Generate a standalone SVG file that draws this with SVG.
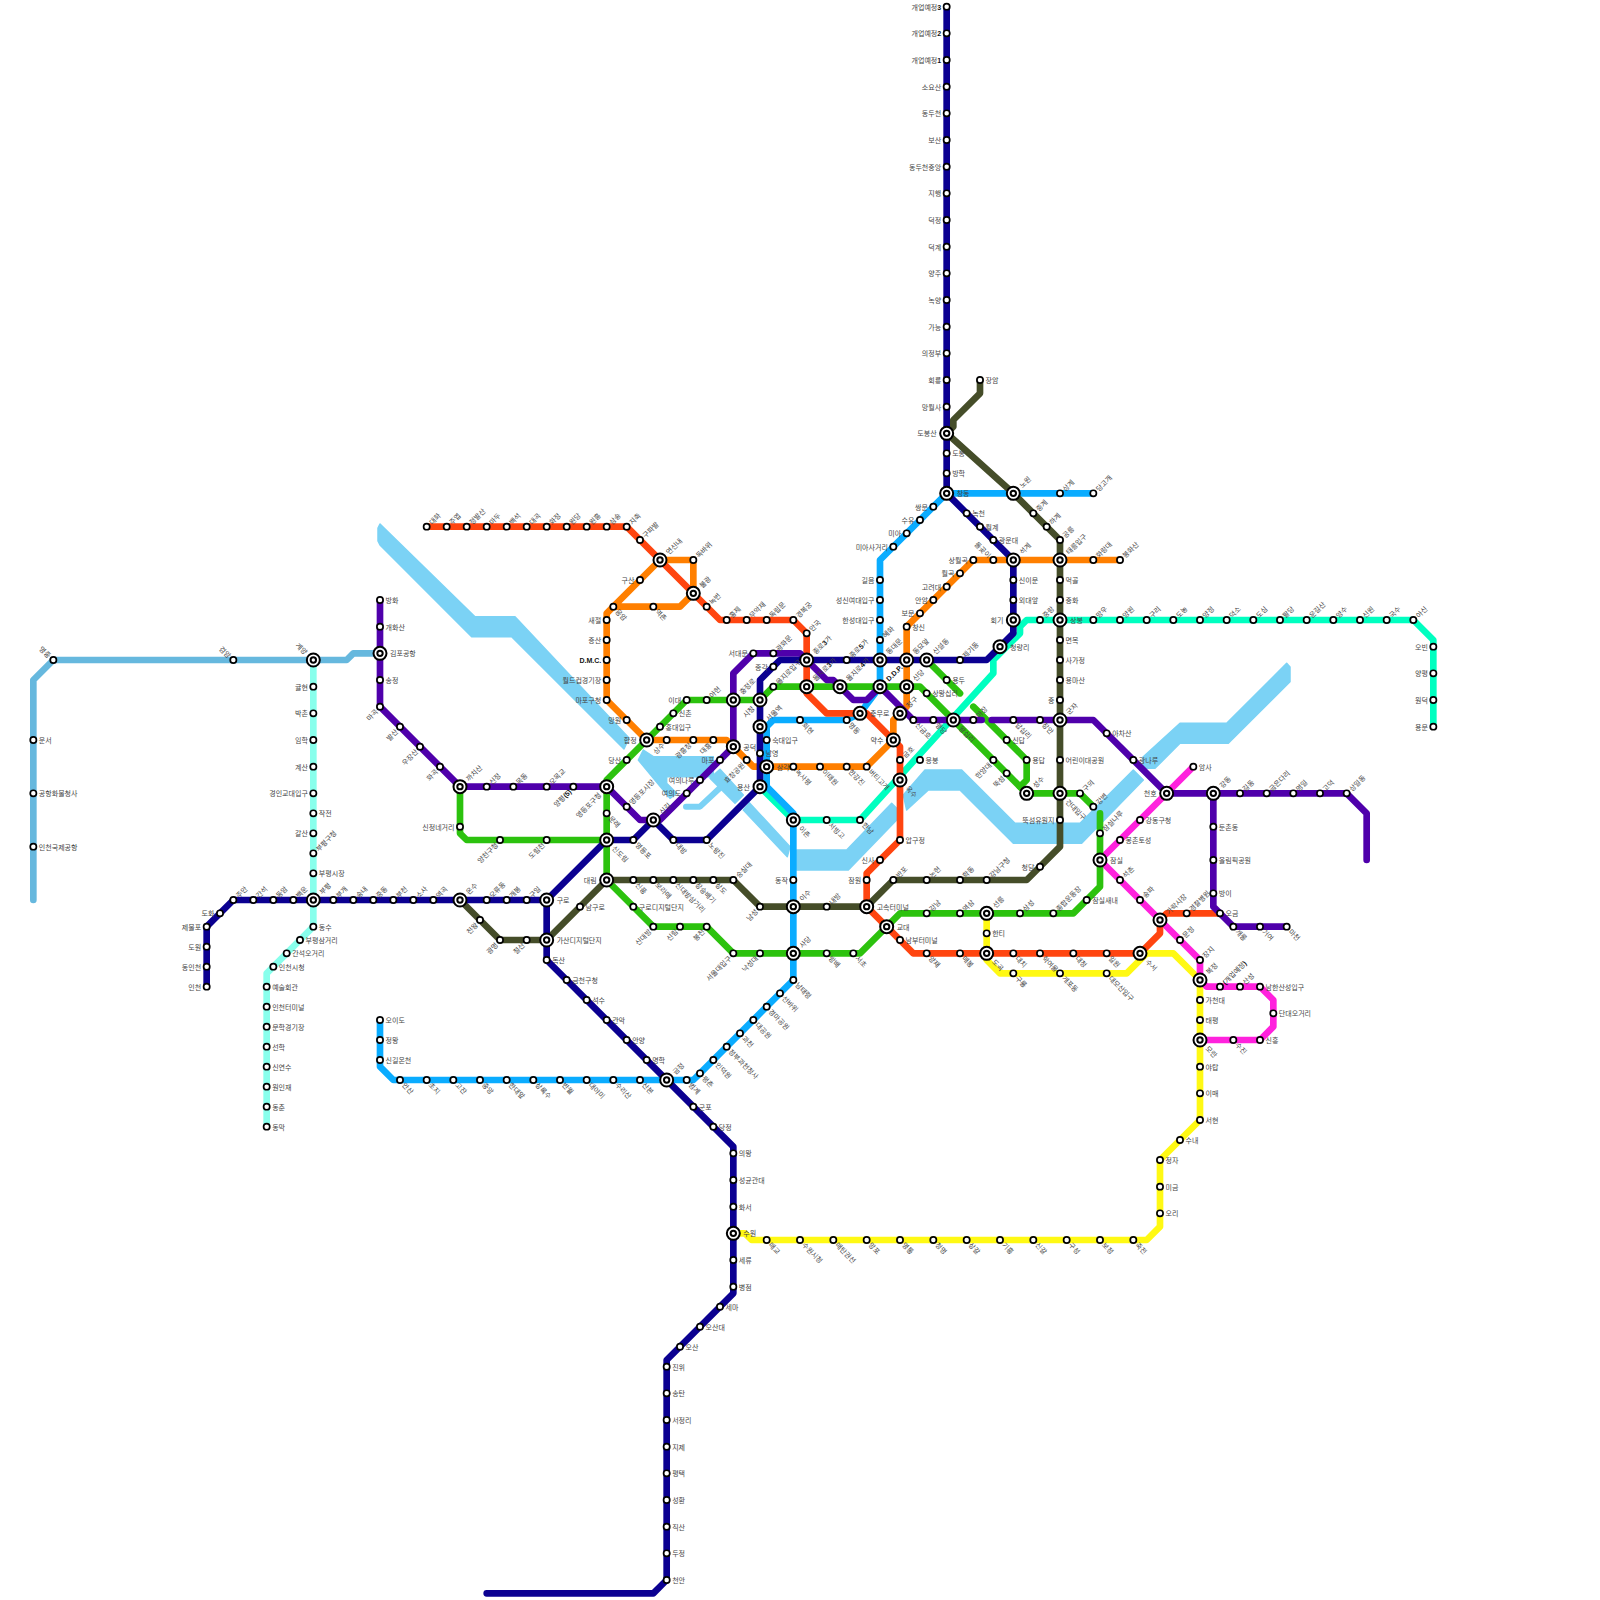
<svg xmlns="http://www.w3.org/2000/svg" width="1600" height="1600" viewBox="0 0 1600 1600">
<style>
text{font-family:"Noto Sans CJK KR","Liberation Sans",sans-serif;font-size:7px;fill:#444;dominant-baseline:central;opacity:.99}
.b{font-family:"Liberation Sans",sans-serif;font-weight:bold;fill:#111}
.r{transform:translate(5.5px,0)}
.l{transform:translate(-5.5px,0);text-anchor:end}
.ur{transform:translate(3.5px,-3.5px) rotate(-45deg)}
.dr{transform:translate(3.5px,3.5px) rotate(45deg)}
.ul{transform:translate(-3.5px,-3.5px) rotate(45deg);text-anchor:end}
.dl{transform:translate(-3.5px,3.5px) rotate(-45deg);text-anchor:end}
.R{transform:translate(10px,0)}
.L{transform:translate(-10px,0);text-anchor:end}
.UR{transform:translate(7px,-7px) rotate(-45deg)}
.DR{transform:translate(7px,7px) rotate(45deg)}
.UL{transform:translate(-7px,-7px) rotate(45deg);text-anchor:end}
.DL{transform:translate(-7px,7px) rotate(-45deg);text-anchor:end}
.s{fill:#fff;stroke:#000;stroke-width:1.7}
.x1{fill:#fff;stroke:#000;stroke-width:2}
.x2{fill:#fff;stroke:#000;stroke-width:2}
#river polygon{fill:#7bd2f5;stroke:#7bd2f5;stroke-width:1.5;stroke-linejoin:round}
#river polyline{fill:none;stroke:#7bd2f5;stroke-width:6;stroke-linecap:round;stroke-linejoin:round}
#connectors polyline{fill:none;stroke-width:6.67;stroke-linecap:round;stroke-linejoin:round}
.arex{stroke:#66b8de}.inc{stroke:#88ffec}.yel{stroke:#fff913}.mag{stroke:#ff22dd}.tea{stroke:#00ffc0}.sky{stroke:#0aacff}.org{stroke:#ff7f00}.red{stroke:#ff4510}.grn{stroke:#2cc20e}.olv{stroke:#454d29}.pur{stroke:#4f00ab}.dbl{stroke:#0b0091}
</style>
<g id="river">
<polygon points="378,528 380,524 475,616.67 515,616.67 629,738 624,749 511.67,636.67 471.67,636.67 380,545 378,541"/>
<polygon points="643.33,750 653.33,756.67 713.33,756.67 713.33,776.67 666.67,776.67 666.67,783.33 676.67,793.33 670,798.33 638.33,760"/>
<polyline points="686,806.67 700,806.67 722,786"/>
<polygon points="720,769.33 743.33,795 735,803.33 710,778.33"/>
<polygon points="749.33,802.67 790,846.67 787.33,856.67 743.33,810"/>
<polygon points="796.67,850 846.67,850 891.67,803.33 896.67,808.33 896.67,820 848.33,870 796.67,870"/>
<polygon points="903.33,795 925,770 961.67,770 1015,823.33 1080,823.33 1133.33,770 1143.33,780 1081.67,843.33 1013.33,843.33 960,790 928.33,790 906.67,810"/>
<polygon points="1143,757 1180,723.33 1226.67,723.33 1286.67,663.33 1290,667 1290,681.67 1228.33,743.33 1180,743.33 1155,768.33 1143,768.33"/>
</g>
<g id="connectors">
<polyline class="arex" points="380,653.33 353.33,653.33 346.67,660 53.33,660 33.33,680 33.33,900"/>
<polyline class="inc" points="313.33,660 313.33,926.67 266.67,973.33 266.67,1126.67"/>
<polyline class="yel" points="986.67,913.33 986.67,960 1000,973.33 1126.67,973.33 1146.67,953.33 1173.33,953.33 1200,980 1200,1120 1160,1160 1160,1226.67 1146.67,1240 751.67,1240 745,1233.33 733.33,1233.33"/>
<polyline class="mag" points="1193.33,766.67 1100,860 1200,960 1200,980 1206.67,986.67 1260,986.67 1273.33,1000 1273.33,1026.67 1260,1040 1200,1040"/>
<polyline class="tea" points="1433.33,726.67 1433.33,640 1413.33,620 1026.67,620 1020,626.67 1020,633.33 993.33,660 993.33,673.33 860,820 793.33,820 760,786.67"/>
<polyline class="sky" points="1093.33,493.33 946.67,493.33 880,560 880,686.67 860,713.33 846.67,720 773.33,720 766.67,726.67 766.67,786.67 793.33,813.33 793.33,980 700,1073.33 693.33,1080 393.33,1080 380,1066.67 380,1020"/>
<polyline class="org" points="660,560 693.33,560 693.33,593.33 680,606.67 613.33,606.67 660,560"/>
<polyline class="org" points="613.33,606.67 606.67,613.33 606.67,700 646.67,740 726.67,740 753.33,766.67 866.67,766.67 893.33,740 893.33,720 906.67,706.67 906.67,626.67 973.33,560 1120,560"/>
<polyline class="red" points="426.67,526.67 626.67,526.67 720,620 793.33,620 806.67,633.33 806.67,693.33 826.67,713.33 866.67,713.33 893.33,740 900,746.67 900,840 866.67,873.33 866.67,906.67 913.33,953.33 1140,953.33 1160,933.33 1160,920 1166.67,913.33 1220,913.33"/>
<polyline class="grn" points="760,700 686.67,700 606.67,780 606.67,880 653.33,926.67 706.67,926.67 733.33,953.33 860,953.33 900,913.33 1073.33,913.33 1100,886.67 1100,813.33"/>
<polyline class="grn" points="1093.33,806.67 1080,793.33 1026.67,793.33 920,686.67 773.33,686.67 760,700"/>
<polyline class="grn" points="926.67,660 960,693.33"/>
<polyline class="grn" points="973.33,706.67 1026.67,760 1026.67,780 1020,786.67"/>
<polyline class="grn" points="460,786.67 460,833.33 466.67,840 606.67,840"/>
<polyline class="olv" points="980,380 980,393.33 953.33,420 953.33,426.67 946.67,433.33 1013.33,493.33 1060,540 1060,846.67 1026.67,880 893.33,880 866.67,906.67 760,906.67 733.33,880 606.67,880 546.67,940 500,940 460,900"/>
<polyline class="pur" points="380,600 380,706.67 460,786.67 606.67,786.67 640,820 660,820 733.33,746.67 733.33,673.33 753.33,653.33 800,653.33 806.67,660 826.67,680 833.33,680 853.33,700 866.67,700 880,686.67 913.33,720 981.67,720"/>
<polyline class="pur" points="991.67,720 1093.33,720 1166.67,793.33 1346.67,793.33 1366.67,813.33 1366.67,860"/>
<polyline class="pur" points="1213.33,793.33 1213.33,906.67 1233.33,926.67 1286.67,926.67"/>
<polyline class="dbl" points="946.67,6.67 946.67,493.33 1013.33,560 1013.33,633.33 986.67,660 780,660 760,680 760,786.67 706.67,840 673.33,840 653.33,820 633.33,840 606.67,840 546.67,900 233.33,900 206.67,926.67 206.67,986.67"/>
<polyline class="dbl" points="546.67,900 546.67,960 733.33,1146.67 733.33,1293.33 666.67,1360 666.67,1580 653.33,1593.33 486.67,1593.33"/>
</g>
<g id="nodes">
<g id="n1" transform="translate(426.67,526.67)"><circle class="s" r="3.1"/><text class="ur">대화</text></g>
<g id="n2" transform="translate(446.67,526.67)"><circle class="s" r="3.1"/><text class="ur">주엽</text></g>
<g id="n3" transform="translate(466.67,526.67)"><circle class="s" r="3.1"/><text class="ur">정발산</text></g>
<g id="n4" transform="translate(486.67,526.67)"><circle class="s" r="3.1"/><text class="ur">마두</text></g>
<g id="n5" transform="translate(506.67,526.67)"><circle class="s" r="3.1"/><text class="ur">백석</text></g>
<g id="n6" transform="translate(526.67,526.67)"><circle class="s" r="3.1"/><text class="ur">대곡</text></g>
<g id="n7" transform="translate(546.67,526.67)"><circle class="s" r="3.1"/><text class="ur">화정</text></g>
<g id="n8" transform="translate(566.67,526.67)"><circle class="s" r="3.1"/><text class="ur">원당</text></g>
<g id="n9" transform="translate(586.67,526.67)"><circle class="s" r="3.1"/><text class="ur">원흥</text></g>
<g id="n10" transform="translate(606.67,526.67)"><circle class="s" r="3.1"/><text class="ur">삼송</text></g>
<g id="n11" transform="translate(626.67,526.67)"><circle class="s" r="3.1"/><text class="ur">지축</text></g>
<g id="n12" transform="translate(640,540)"><circle class="s" r="3.1"/><text class="ur">구파발</text></g>
<g id="n13" transform="translate(660,560)"><circle class="x1" r="6.5"/><circle class="x2" r="2.7"/><text class="UR">연신내</text></g>
<g id="n14" transform="translate(693.33,593.33)"><circle class="x1" r="6.5"/><circle class="x2" r="2.7"/><text class="UR">불광</text></g>
<g id="n15" transform="translate(706.67,606.67)"><circle class="s" r="3.1"/><text class="ur">녹번</text></g>
<g id="n16" transform="translate(726.67,620)"><circle class="s" r="3.1"/><text class="ur">홍제</text></g>
<g id="n17" transform="translate(746.67,620)"><circle class="s" r="3.1"/><text class="ur">무악재</text></g>
<g id="n18" transform="translate(766.67,620)"><circle class="s" r="3.1"/><text class="ur">독립문</text></g>
<g id="n19" transform="translate(793.33,620)"><circle class="s" r="3.1"/><text class="ur">경복궁</text></g>
<g id="n20" transform="translate(806.67,633.33)"><circle class="s" r="3.1"/><text class="ur">안국</text></g>
<g id="n21" transform="translate(806.67,660)"><circle class="x1" r="6.5"/><circle class="x2" r="2.7"/><text class="UR">종로<tspan class="b">3</tspan>가</text></g>
<g id="n22" transform="translate(806.67,686.67)"><circle class="x1" r="6.5"/><circle class="x2" r="2.7"/><text class="UR">을지로<tspan class="b">3</tspan>가</text></g>
<g id="n23" transform="translate(860,713.33)"><circle class="x1" r="6.5"/><circle class="x2" r="2.7"/><text class="R">충무로</text></g>
<g id="n24" transform="translate(893.33,740)"><circle class="x1" r="6.5"/><circle class="x2" r="2.7"/><text class="L">약수</text></g>
<g id="n25" transform="translate(900,760)"><circle class="s" r="3.1"/><text class="ur">금호</text></g>
<g id="n26" transform="translate(900,780)"><circle class="x1" r="6.5"/><circle class="x2" r="2.7"/><text class="DR">옥수</text></g>
<g id="n27" transform="translate(900,840)"><circle class="s" r="3.1"/><text class="r">압구정</text></g>
<g id="n28" transform="translate(880,860)"><circle class="s" r="3.1"/><text class="l">신사</text></g>
<g id="n29" transform="translate(866.67,880)"><circle class="s" r="3.1"/><text class="l">잠원</text></g>
<g id="n30" transform="translate(866.67,906.67)"><circle class="x1" r="6.5"/><circle class="x2" r="2.7"/><text class="R">고속터미널</text></g>
<g id="n31" transform="translate(886.67,926.67)"><circle class="x1" r="6.5"/><circle class="x2" r="2.7"/><text class="R">교대</text></g>
<g id="n32" transform="translate(900,940)"><circle class="s" r="3.1"/><text class="r">남부터미널</text></g>
<g id="n33" transform="translate(926.67,953.33)"><circle class="s" r="3.1"/><text class="dr">양재</text></g>
<g id="n34" transform="translate(960,953.33)"><circle class="s" r="3.1"/><text class="dr">매봉</text></g>
<g id="n35" transform="translate(986.67,953.33)"><circle class="x1" r="6.5"/><circle class="x2" r="2.7"/><text class="DR">도곡</text></g>
<g id="n36" transform="translate(1013.33,953.33)"><circle class="s" r="3.1"/><text class="dr">대치</text></g>
<g id="n37" transform="translate(1040,953.33)"><circle class="s" r="3.1"/><text class="dr">학여울</text></g>
<g id="n38" transform="translate(1073.33,953.33)"><circle class="s" r="3.1"/><text class="dr">대청</text></g>
<g id="n39" transform="translate(1106.67,953.33)"><circle class="s" r="3.1"/><text class="dr">일원</text></g>
<g id="n40" transform="translate(1140,953.33)"><circle class="x1" r="6.5"/><circle class="x2" r="2.7"/><text class="DR">수서</text></g>
<g id="n41" transform="translate(1160,920)"><circle class="x1" r="6.5"/><circle class="x2" r="2.7"/><text class="UR">가락시장</text></g>
<g id="n42" transform="translate(1186.67,913.33)"><circle class="s" r="3.1"/><text class="ur">경찰병원</text></g>
<g id="n43" transform="translate(1220,913.33)"><circle class="s" r="3.1"/><text class="r">오금</text></g>
<g id="n44" transform="translate(693.33,560)"><circle class="s" r="3.1"/><text class="ur">독바위</text></g>
<g id="n45" transform="translate(640,580)"><circle class="s" r="3.1"/><text class="l">구산</text></g>
<g id="n46" transform="translate(613.33,606.67)"><circle class="s" r="3.1"/><text class="dr">응암</text></g>
<g id="n47" transform="translate(653.33,606.67)"><circle class="s" r="3.1"/><text class="dr">역촌</text></g>
<g id="n48" transform="translate(606.67,620)"><circle class="s" r="3.1"/><text class="l">새절</text></g>
<g id="n49" transform="translate(606.67,640)"><circle class="s" r="3.1"/><text class="l">증산</text></g>
<g id="n50" transform="translate(606.67,660)"><circle class="s" r="3.1"/><text class="l"><tspan class="b">D.M.C.</tspan></text></g>
<g id="n51" transform="translate(606.67,680)"><circle class="s" r="3.1"/><text class="l">월드컵경기장</text></g>
<g id="n52" transform="translate(606.67,700)"><circle class="s" r="3.1"/><text class="l">마포구청</text></g>
<g id="n53" transform="translate(626.67,720)"><circle class="s" r="3.1"/><text class="l">망원</text></g>
<g id="n54" transform="translate(646.67,740)"><circle class="x1" r="6.5"/><circle class="x2" r="2.7"/><text class="L">합정</text></g>
<g id="n55" transform="translate(666.67,740)"><circle class="s" r="3.1"/><text class="dl">상수</text></g>
<g id="n56" transform="translate(693.33,740)"><circle class="s" r="3.1"/><text class="dl">광흥창</text></g>
<g id="n57" transform="translate(713.33,740)"><circle class="s" r="3.1"/><text class="dl">대흥</text></g>
<g id="n58" transform="translate(733.33,746.67)"><circle class="x1" r="6.5"/><circle class="x2" r="2.7"/><text class="R">공덕</text></g>
<g id="n59" transform="translate(746.67,760)"><circle class="s" r="3.1"/><text class="dl">효창공원</text></g>
<g id="n60" transform="translate(766.67,766.67)"><circle class="x1" r="6.5"/><circle class="x2" r="2.7"/><text class="R">삼각지</text></g>
<g id="n61" transform="translate(793.33,766.67)"><circle class="s" r="3.1"/><text class="dr">녹사평</text></g>
<g id="n62" transform="translate(820,766.67)"><circle class="s" r="3.1"/><text class="dr">이태원</text></g>
<g id="n63" transform="translate(846.67,766.67)"><circle class="s" r="3.1"/><text class="dr">한강진</text></g>
<g id="n64" transform="translate(866.67,766.67)"><circle class="s" r="3.1"/><text class="dr">버티고개</text></g>
<g id="n65" transform="translate(900,713.33)"><circle class="x1" r="6.5"/><circle class="x2" r="2.7"/><text class="UR">청구</text></g>
<g id="n66" transform="translate(906.67,686.67)"><circle class="x1" r="6.5"/><circle class="x2" r="2.7"/><text class="UR">신당</text></g>
<g id="n67" transform="translate(906.67,660)"><circle class="x1" r="6.5"/><circle class="x2" r="2.7"/><text class="UR">동묘앞</text></g>
<g id="n68" transform="translate(906.67,626.67)"><circle class="s" r="3.1"/><text class="r">창신</text></g>
<g id="n69" transform="translate(920,613.33)"><circle class="s" r="3.1"/><text class="l">보문</text></g>
<g id="n70" transform="translate(933.33,600)"><circle class="s" r="3.1"/><text class="l">안암</text></g>
<g id="n71" transform="translate(946.67,586.67)"><circle class="s" r="3.1"/><text class="l">고려대</text></g>
<g id="n72" transform="translate(960,573.33)"><circle class="s" r="3.1"/><text class="l">월곡</text></g>
<g id="n73" transform="translate(973.33,560)"><circle class="s" r="3.1"/><text class="l">상월곡</text></g>
<g id="n74" transform="translate(993.33,560)"><circle class="s" r="3.1"/><text class="ul">돌곶이</text></g>
<g id="n75" transform="translate(1013.33,560)"><circle class="x1" r="6.5"/><circle class="x2" r="2.7"/><text class="UR">석계</text></g>
<g id="n76" transform="translate(1060,560)"><circle class="x1" r="6.5"/><circle class="x2" r="2.7"/><text class="UR">태릉입구</text></g>
<g id="n77" transform="translate(1093.33,560)"><circle class="s" r="3.1"/><text class="ur">화랑대</text></g>
<g id="n78" transform="translate(1120,560)"><circle class="s" r="3.1"/><text class="ur">봉화산</text></g>
<g id="n79" transform="translate(1093.33,493.33)"><circle class="s" r="3.1"/><text class="ur">당고개</text></g>
<g id="n80" transform="translate(1060,493.33)"><circle class="s" r="3.1"/><text class="ur">상계</text></g>
<g id="n81" transform="translate(1013.33,493.33)"><circle class="x1" r="6.5"/><circle class="x2" r="2.7"/><text class="UR">노원</text></g>
<g id="n82" transform="translate(946.67,493.33)"><circle class="x1" r="6.5"/><circle class="x2" r="2.7"/><text class="R">창동</text></g>
<g id="n83" transform="translate(933.33,506.67)"><circle class="s" r="3.1"/><text class="l">쌍문</text></g>
<g id="n84" transform="translate(920,520)"><circle class="s" r="3.1"/><text class="l">수유</text></g>
<g id="n85" transform="translate(906.67,533.33)"><circle class="s" r="3.1"/><text class="l">미아</text></g>
<g id="n86" transform="translate(893.33,546.67)"><circle class="s" r="3.1"/><text class="l">미아사거리</text></g>
<g id="n87" transform="translate(880,580)"><circle class="s" r="3.1"/><text class="l">길음</text></g>
<g id="n88" transform="translate(880,600)"><circle class="s" r="3.1"/><text class="l">성신여대입구</text></g>
<g id="n89" transform="translate(880,620)"><circle class="s" r="3.1"/><text class="l">한성대입구</text></g>
<g id="n90" transform="translate(880,640)"><circle class="s" r="3.1"/><text class="ur">혜화</text></g>
<g id="n91" transform="translate(880,660)"><circle class="x1" r="6.5"/><circle class="x2" r="2.7"/><text class="UR">동대문</text></g>
<g id="n92" transform="translate(880,686.67)"><circle class="x1" r="6.5"/><circle class="x2" r="2.7"/><text class="UR"><tspan class="b">D.D.P.</tspan></text></g>
<g id="n93" transform="translate(846.67,720)"><circle class="s" r="3.1"/><text class="dr">명동</text></g>
<g id="n94" transform="translate(800,720)"><circle class="s" r="3.1"/><text class="dr">회현</text></g>
<g id="n95" transform="translate(766.67,740)"><circle class="s" r="3.1"/><text class="r">숙대입구</text></g>
<g id="n96" transform="translate(760,726.67)"><circle class="x1" r="6.5"/><circle class="x2" r="2.7"/><text class="UR">서울역</text></g>
<g id="n97" transform="translate(760,753.33)"><circle class="s" r="3.1"/><text class="r">남영</text></g>
<g id="n98" transform="translate(760,786.67)"><circle class="x1" r="6.5"/><circle class="x2" r="2.7"/><text class="L">용산</text></g>
<g id="n99" transform="translate(793.33,820)"><circle class="x1" r="6.5"/><circle class="x2" r="2.7"/><text class="DR">이촌</text></g>
<g id="n100" transform="translate(793.33,880)"><circle class="s" r="3.1"/><text class="l">동작</text></g>
<g id="n101" transform="translate(793.33,906.67)"><circle class="x1" r="6.5"/><circle class="x2" r="2.7"/><text class="UR">이수</text></g>
<g id="n102" transform="translate(793.33,953.33)"><circle class="x1" r="6.5"/><circle class="x2" r="2.7"/><text class="UR">사당</text></g>
<g id="n103" transform="translate(793.33,980)"><circle class="s" r="3.1"/><text class="dr">남태령</text></g>
<g id="n104" transform="translate(780,993.33)"><circle class="s" r="3.1"/><text class="dr">선바위</text></g>
<g id="n105" transform="translate(766.67,1006.67)"><circle class="s" r="3.1"/><text class="dr">경마공원</text></g>
<g id="n106" transform="translate(753.33,1020)"><circle class="s" r="3.1"/><text class="dr">대공원</text></g>
<g id="n107" transform="translate(740,1033.33)"><circle class="s" r="3.1"/><text class="dr">과천</text></g>
<g id="n108" transform="translate(726.67,1046.67)"><circle class="s" r="3.1"/><text class="dr">정부과천청사</text></g>
<g id="n109" transform="translate(713.33,1060)"><circle class="s" r="3.1"/><text class="dr">인덕원</text></g>
<g id="n110" transform="translate(700,1073.33)"><circle class="s" r="3.1"/><text class="dr">평촌</text></g>
<g id="n111" transform="translate(686.67,1080)"><circle class="s" r="3.1"/><text class="dr">범계</text></g>
<g id="n112" transform="translate(666.67,1080)"><circle class="x1" r="6.5"/><circle class="x2" r="2.7"/><text class="UR">금정</text></g>
<g id="n113" transform="translate(640,1080)"><circle class="s" r="3.1"/><text class="dr">산본</text></g>
<g id="n114" transform="translate(613.33,1080)"><circle class="s" r="3.1"/><text class="dr">수리산</text></g>
<g id="n115" transform="translate(586.67,1080)"><circle class="s" r="3.1"/><text class="dr">대야미</text></g>
<g id="n116" transform="translate(560,1080)"><circle class="s" r="3.1"/><text class="dr">반월</text></g>
<g id="n117" transform="translate(533.33,1080)"><circle class="s" r="3.1"/><text class="dr">상록수</text></g>
<g id="n118" transform="translate(506.67,1080)"><circle class="s" r="3.1"/><text class="dr">한대앞</text></g>
<g id="n119" transform="translate(480,1080)"><circle class="s" r="3.1"/><text class="dr">중앙</text></g>
<g id="n120" transform="translate(453.33,1080)"><circle class="s" r="3.1"/><text class="dr">고잔</text></g>
<g id="n121" transform="translate(426.67,1080)"><circle class="s" r="3.1"/><text class="dr">초지</text></g>
<g id="n122" transform="translate(400,1080)"><circle class="s" r="3.1"/><text class="dr">안산</text></g>
<g id="n123" transform="translate(380,1060)"><circle class="s" r="3.1"/><text class="r">신길온천</text></g>
<g id="n124" transform="translate(380,1040)"><circle class="s" r="3.1"/><text class="r">정왕</text></g>
<g id="n125" transform="translate(380,1020)"><circle class="s" r="3.1"/><text class="r">오이도</text></g>
<g id="n126" transform="translate(946.67,6.67)"><circle class="s" r="3.1"/><text class="l">개업예정<tspan class="b">3</tspan></text></g>
<g id="n127" transform="translate(946.67,33.33)"><circle class="s" r="3.1"/><text class="l">개업예정<tspan class="b">2</tspan></text></g>
<g id="n128" transform="translate(946.67,60)"><circle class="s" r="3.1"/><text class="l">개업예정<tspan class="b">1</tspan></text></g>
<g id="n129" transform="translate(946.67,86.67)"><circle class="s" r="3.1"/><text class="l">소요산</text></g>
<g id="n130" transform="translate(946.67,113.33)"><circle class="s" r="3.1"/><text class="l">동두천</text></g>
<g id="n131" transform="translate(946.67,140)"><circle class="s" r="3.1"/><text class="l">보산</text></g>
<g id="n132" transform="translate(946.67,166.67)"><circle class="s" r="3.1"/><text class="l">동두천중앙</text></g>
<g id="n133" transform="translate(946.67,193.33)"><circle class="s" r="3.1"/><text class="l">지행</text></g>
<g id="n134" transform="translate(946.67,220)"><circle class="s" r="3.1"/><text class="l">덕정</text></g>
<g id="n135" transform="translate(946.67,246.67)"><circle class="s" r="3.1"/><text class="l">덕계</text></g>
<g id="n136" transform="translate(946.67,273.33)"><circle class="s" r="3.1"/><text class="l">양주</text></g>
<g id="n137" transform="translate(946.67,300)"><circle class="s" r="3.1"/><text class="l">녹양</text></g>
<g id="n138" transform="translate(946.67,326.67)"><circle class="s" r="3.1"/><text class="l">가능</text></g>
<g id="n139" transform="translate(946.67,353.33)"><circle class="s" r="3.1"/><text class="l">의정부</text></g>
<g id="n140" transform="translate(946.67,380)"><circle class="s" r="3.1"/><text class="l">회룡</text></g>
<g id="n141" transform="translate(946.67,406.67)"><circle class="s" r="3.1"/><text class="l">망월사</text></g>
<g id="n142" transform="translate(946.67,433.33)"><circle class="x1" r="6.5"/><circle class="x2" r="2.7"/><text class="L">도봉산</text></g>
<g id="n143" transform="translate(946.67,453.33)"><circle class="s" r="3.1"/><text class="r">도봉</text></g>
<g id="n144" transform="translate(946.67,473.33)"><circle class="s" r="3.1"/><text class="r">방학</text></g>
<g id="n145" transform="translate(966.67,513.33)"><circle class="s" r="3.1"/><text class="r">녹천</text></g>
<g id="n146" transform="translate(980,526.67)"><circle class="s" r="3.1"/><text class="r">월계</text></g>
<g id="n147" transform="translate(993.33,540)"><circle class="s" r="3.1"/><text class="r">광운대</text></g>
<g id="n148" transform="translate(1013.33,580)"><circle class="s" r="3.1"/><text class="r">신이문</text></g>
<g id="n149" transform="translate(1013.33,600)"><circle class="s" r="3.1"/><text class="r">외대앞</text></g>
<g id="n150" transform="translate(1013.33,620)"><circle class="x1" r="6.5"/><circle class="x2" r="2.7"/><text class="L">회기</text></g>
<g id="n151" transform="translate(1000,646.67)"><circle class="x1" r="6.5"/><circle class="x2" r="2.7"/><text class="R">청량리</text></g>
<g id="n152" transform="translate(960,660)"><circle class="s" r="3.1"/><text class="ur">제기동</text></g>
<g id="n153" transform="translate(926.67,660)"><circle class="x1" r="6.5"/><circle class="x2" r="2.7"/><text class="UR">신설동</text></g>
<g id="n154" transform="translate(846.67,660)"><circle class="s" r="3.1"/><text class="ur">종로<tspan class="b">5</tspan>가</text></g>
<g id="n155" transform="translate(773.33,666.67)"><circle class="s" r="3.1"/><text class="l">종각</text></g>
<g id="n156" transform="translate(760,700)"><circle class="x1" r="6.5"/><circle class="x2" r="2.7"/><text class="DL">시청</text></g>
<g id="n157" transform="translate(706.67,840)"><circle class="s" r="3.1"/><text class="dr">노량진</text></g>
<g id="n158" transform="translate(673.33,840)"><circle class="s" r="3.1"/><text class="dr">대방</text></g>
<g id="n159" transform="translate(653.33,820)"><circle class="x1" r="6.5"/><circle class="x2" r="2.7"/><text class="UR">신길</text></g>
<g id="n160" transform="translate(633.33,840)"><circle class="s" r="3.1"/><text class="dr">영등포</text></g>
<g id="n161" transform="translate(606.67,840)"><circle class="x1" r="6.5"/><circle class="x2" r="2.7"/><text class="DR">신도림</text></g>
<g id="n162" transform="translate(546.67,900)"><circle class="x1" r="6.5"/><circle class="x2" r="2.7"/><text class="R">구로</text></g>
<g id="n163" transform="translate(526.67,900)"><circle class="s" r="3.1"/><text class="ur">구일</text></g>
<g id="n164" transform="translate(506.67,900)"><circle class="s" r="3.1"/><text class="ur">개봉</text></g>
<g id="n165" transform="translate(486.67,900)"><circle class="s" r="3.1"/><text class="ur">오류동</text></g>
<g id="n166" transform="translate(460,900)"><circle class="x1" r="6.5"/><circle class="x2" r="2.7"/><text class="UR">온수</text></g>
<g id="n167" transform="translate(433.33,900)"><circle class="s" r="3.1"/><text class="ur">역곡</text></g>
<g id="n168" transform="translate(413.33,900)"><circle class="s" r="3.1"/><text class="ur">소사</text></g>
<g id="n169" transform="translate(393.33,900)"><circle class="s" r="3.1"/><text class="ur">부천</text></g>
<g id="n170" transform="translate(373.33,900)"><circle class="s" r="3.1"/><text class="ur">중동</text></g>
<g id="n171" transform="translate(353.33,900)"><circle class="s" r="3.1"/><text class="ur">송내</text></g>
<g id="n172" transform="translate(333.33,900)"><circle class="s" r="3.1"/><text class="ur">부개</text></g>
<g id="n173" transform="translate(313.33,900)"><circle class="x1" r="6.5"/><circle class="x2" r="2.7"/><text class="UR">부평</text></g>
<g id="n174" transform="translate(293.33,900)"><circle class="s" r="3.1"/><text class="ur">백운</text></g>
<g id="n175" transform="translate(273.33,900)"><circle class="s" r="3.1"/><text class="ur">동암</text></g>
<g id="n176" transform="translate(253.33,900)"><circle class="s" r="3.1"/><text class="ur">간석</text></g>
<g id="n177" transform="translate(233.33,900)"><circle class="s" r="3.1"/><text class="ur">주안</text></g>
<g id="n178" transform="translate(220,913.33)"><circle class="s" r="3.1"/><text class="l">도화</text></g>
<g id="n179" transform="translate(206.67,926.67)"><circle class="s" r="3.1"/><text class="l">제물포</text></g>
<g id="n180" transform="translate(206.67,946.67)"><circle class="s" r="3.1"/><text class="l">도원</text></g>
<g id="n181" transform="translate(206.67,966.67)"><circle class="s" r="3.1"/><text class="l">동인천</text></g>
<g id="n182" transform="translate(206.67,986.67)"><circle class="s" r="3.1"/><text class="l">인천</text></g>
<g id="n183" transform="translate(546.67,940)"><circle class="x1" r="6.5"/><circle class="x2" r="2.7"/><text class="R">가산디지털단지</text></g>
<g id="n184" transform="translate(546.67,960)"><circle class="s" r="3.1"/><text class="r">독산</text></g>
<g id="n185" transform="translate(566.67,980)"><circle class="s" r="3.1"/><text class="r">금천구청</text></g>
<g id="n186" transform="translate(586.67,1000)"><circle class="s" r="3.1"/><text class="r">석수</text></g>
<g id="n187" transform="translate(606.67,1020)"><circle class="s" r="3.1"/><text class="r">관악</text></g>
<g id="n188" transform="translate(626.67,1040)"><circle class="s" r="3.1"/><text class="r">안양</text></g>
<g id="n189" transform="translate(646.67,1060)"><circle class="s" r="3.1"/><text class="r">명학</text></g>
<g id="n190" transform="translate(693.33,1106.67)"><circle class="s" r="3.1"/><text class="r">군포</text></g>
<g id="n191" transform="translate(713.33,1126.67)"><circle class="s" r="3.1"/><text class="r">당정</text></g>
<g id="n192" transform="translate(733.33,1153.33)"><circle class="s" r="3.1"/><text class="r">의왕</text></g>
<g id="n193" transform="translate(733.33,1180)"><circle class="s" r="3.1"/><text class="r">성균관대</text></g>
<g id="n194" transform="translate(733.33,1206.67)"><circle class="s" r="3.1"/><text class="r">화서</text></g>
<g id="n195" transform="translate(733.33,1233.33)"><circle class="x1" r="6.5"/><circle class="x2" r="2.7"/><text class="R">수원</text></g>
<g id="n196" transform="translate(733.33,1260)"><circle class="s" r="3.1"/><text class="r">세류</text></g>
<g id="n197" transform="translate(733.33,1286.67)"><circle class="s" r="3.1"/><text class="r">병점</text></g>
<g id="n198" transform="translate(720,1306.67)"><circle class="s" r="3.1"/><text class="r">세마</text></g>
<g id="n199" transform="translate(700,1326.67)"><circle class="s" r="3.1"/><text class="r">오산대</text></g>
<g id="n200" transform="translate(680,1346.67)"><circle class="s" r="3.1"/><text class="r">오산</text></g>
<g id="n201" transform="translate(666.67,1366.67)"><circle class="s" r="3.1"/><text class="r">진위</text></g>
<g id="n202" transform="translate(666.67,1393.33)"><circle class="s" r="3.1"/><text class="r">송탄</text></g>
<g id="n203" transform="translate(666.67,1420)"><circle class="s" r="3.1"/><text class="r">서정리</text></g>
<g id="n204" transform="translate(666.67,1446.67)"><circle class="s" r="3.1"/><text class="r">지제</text></g>
<g id="n205" transform="translate(666.67,1473.33)"><circle class="s" r="3.1"/><text class="r">평택</text></g>
<g id="n206" transform="translate(666.67,1500)"><circle class="s" r="3.1"/><text class="r">성환</text></g>
<g id="n207" transform="translate(666.67,1526.67)"><circle class="s" r="3.1"/><text class="r">직산</text></g>
<g id="n208" transform="translate(666.67,1553.33)"><circle class="s" r="3.1"/><text class="r">두정</text></g>
<g id="n209" transform="translate(666.67,1580)"><circle class="s" r="3.1"/><text class="r">천안</text></g>
<g id="n210" transform="translate(766.67,1240)"><circle class="s" r="3.1"/><text class="dr">매교</text></g>
<g id="n211" transform="translate(800,1240)"><circle class="s" r="3.1"/><text class="dr">수원시청</text></g>
<g id="n212" transform="translate(833.33,1240)"><circle class="s" r="3.1"/><text class="dr">매탄권선</text></g>
<g id="n213" transform="translate(866.67,1240)"><circle class="s" r="3.1"/><text class="dr">망포</text></g>
<g id="n214" transform="translate(900,1240)"><circle class="s" r="3.1"/><text class="dr">영통</text></g>
<g id="n215" transform="translate(933.33,1240)"><circle class="s" r="3.1"/><text class="dr">청명</text></g>
<g id="n216" transform="translate(966.67,1240)"><circle class="s" r="3.1"/><text class="dr">상갈</text></g>
<g id="n217" transform="translate(1000,1240)"><circle class="s" r="3.1"/><text class="dr">기흥</text></g>
<g id="n218" transform="translate(1033.33,1240)"><circle class="s" r="3.1"/><text class="dr">신갈</text></g>
<g id="n219" transform="translate(1066.67,1240)"><circle class="s" r="3.1"/><text class="dr">구성</text></g>
<g id="n220" transform="translate(1100,1240)"><circle class="s" r="3.1"/><text class="dr">보정</text></g>
<g id="n221" transform="translate(1133.33,1240)"><circle class="s" r="3.1"/><text class="dr">죽전</text></g>
<g id="n222" transform="translate(1160,1213.33)"><circle class="s" r="3.1"/><text class="r">오리</text></g>
<g id="n223" transform="translate(1160,1186.67)"><circle class="s" r="3.1"/><text class="r">미금</text></g>
<g id="n224" transform="translate(1160,1160)"><circle class="s" r="3.1"/><text class="r">정자</text></g>
<g id="n225" transform="translate(1180,1140)"><circle class="s" r="3.1"/><text class="r">수내</text></g>
<g id="n226" transform="translate(1200,1120)"><circle class="s" r="3.1"/><text class="r">서현</text></g>
<g id="n227" transform="translate(1200,1093.33)"><circle class="s" r="3.1"/><text class="r">이매</text></g>
<g id="n228" transform="translate(1200,1066.67)"><circle class="s" r="3.1"/><text class="r">야탑</text></g>
<g id="n229" transform="translate(1200,1040)"><circle class="x1" r="6.5"/><circle class="x2" r="2.7"/><text class="DR">모란</text></g>
<g id="n230" transform="translate(1200,1020)"><circle class="s" r="3.1"/><text class="r">태평</text></g>
<g id="n231" transform="translate(1200,1000)"><circle class="s" r="3.1"/><text class="r">가천대</text></g>
<g id="n232" transform="translate(1200,980)"><circle class="x1" r="6.5"/><circle class="x2" r="2.7"/><text class="UR">복정</text></g>
<g id="n233" transform="translate(986.67,933.33)"><circle class="s" r="3.1"/><text class="r">한티</text></g>
<g id="n234" transform="translate(986.67,913.33)"><circle class="x1" r="6.5"/><circle class="x2" r="2.7"/><text class="UR">선릉</text></g>
<g id="n235" transform="translate(1013.33,973.33)"><circle class="s" r="3.1"/><text class="dr">구룡</text></g>
<g id="n236" transform="translate(1060,973.33)"><circle class="s" r="3.1"/><text class="dr">개포동</text></g>
<g id="n237" transform="translate(1106.67,973.33)"><circle class="s" r="3.1"/><text class="dr">대모산입구</text></g>
<g id="n238" transform="translate(1193.33,766.67)"><circle class="s" r="3.1"/><text class="r">암사</text></g>
<g id="n239" transform="translate(1166.67,793.33)"><circle class="x1" r="6.5"/><circle class="x2" r="2.7"/><text class="L">천호</text></g>
<g id="n240" transform="translate(1140,820)"><circle class="s" r="3.1"/><text class="r">강동구청</text></g>
<g id="n241" transform="translate(1120,840)"><circle class="s" r="3.1"/><text class="r">몽촌토성</text></g>
<g id="n242" transform="translate(1100,860)"><circle class="x1" r="6.5"/><circle class="x2" r="2.7"/><text class="R">잠실</text></g>
<g id="n243" transform="translate(1120,880)"><circle class="s" r="3.1"/><text class="ur">석촌</text></g>
<g id="n244" transform="translate(1140,900)"><circle class="s" r="3.1"/><text class="ur">송파</text></g>
<g id="n245" transform="translate(1180,940)"><circle class="s" r="3.1"/><text class="ur">문정</text></g>
<g id="n246" transform="translate(1200,960)"><circle class="s" r="3.1"/><text class="ur">장지</text></g>
<g id="n247" transform="translate(1220,986.67)"><circle class="s" r="3.1"/><text class="ur"><tspan class="b">(</tspan>개업예정<tspan class="b">)</tspan></text></g>
<g id="n248" transform="translate(1240,986.67)"><circle class="s" r="3.1"/><text class="ur">산성</text></g>
<g id="n249" transform="translate(1260,986.67)"><circle class="s" r="3.1"/><text class="r">남한산성입구</text></g>
<g id="n250" transform="translate(1273.33,1013.33)"><circle class="s" r="3.1"/><text class="r">단대오거리</text></g>
<g id="n251" transform="translate(1260,1040)"><circle class="s" r="3.1"/><text class="r">신흥</text></g>
<g id="n252" transform="translate(1233.33,1040)"><circle class="s" r="3.1"/><text class="dr">수진</text></g>
<g id="n253" transform="translate(380,600)"><circle class="s" r="3.1"/><text class="r">방화</text></g>
<g id="n254" transform="translate(380,626.67)"><circle class="s" r="3.1"/><text class="r">개화산</text></g>
<g id="n255" transform="translate(380,653.33)"><circle class="x1" r="6.5"/><circle class="x2" r="2.7"/><text class="R">김포공항</text></g>
<g id="n256" transform="translate(380,680)"><circle class="s" r="3.1"/><text class="r">송정</text></g>
<g id="n257" transform="translate(380,706.67)"><circle class="s" r="3.1"/><text class="dl">마곡</text></g>
<g id="n258" transform="translate(400,726.67)"><circle class="s" r="3.1"/><text class="dl">발산</text></g>
<g id="n259" transform="translate(420,746.67)"><circle class="s" r="3.1"/><text class="dl">우장산</text></g>
<g id="n260" transform="translate(440,766.67)"><circle class="s" r="3.1"/><text class="dl">화곡</text></g>
<g id="n261" transform="translate(460,786.67)"><circle class="x1" r="6.5"/><circle class="x2" r="2.7"/><text class="UR">까치산</text></g>
<g id="n262" transform="translate(486.67,786.67)"><circle class="s" r="3.1"/><text class="ur">신정</text></g>
<g id="n263" transform="translate(513.33,786.67)"><circle class="s" r="3.1"/><text class="ur">목동</text></g>
<g id="n264" transform="translate(546.67,786.67)"><circle class="s" r="3.1"/><text class="ur">오목교</text></g>
<g id="n265" transform="translate(573.33,786.67)"><circle class="s" r="3.1"/><text class="dl">양평<tspan class="b">(5)</tspan></text></g>
<g id="n266" transform="translate(606.67,786.67)"><circle class="x1" r="6.5"/><circle class="x2" r="2.7"/><text class="DL">영등포구청</text></g>
<g id="n267" transform="translate(626.67,806.67)"><circle class="s" r="3.1"/><text class="ur">영등포시장</text></g>
<g id="n268" transform="translate(686.67,793.33)"><circle class="s" r="3.1"/><text class="l">여의도</text></g>
<g id="n269" transform="translate(700,780)"><circle class="s" r="3.1"/><text class="l">여의나루</text></g>
<g id="n270" transform="translate(720,760)"><circle class="s" r="3.1"/><text class="l">마포</text></g>
<g id="n271" transform="translate(753.33,653.33)"><circle class="s" r="3.1"/><text class="l">서대문</text></g>
<g id="n272" transform="translate(773.33,653.33)"><circle class="s" r="3.1"/><text class="ur">광화문</text></g>
<g id="n273" transform="translate(840,686.67)"><circle class="x1" r="6.5"/><circle class="x2" r="2.7"/><text class="UR">을지로<tspan class="b">4</tspan>가</text></g>
<g id="n274" transform="translate(913.33,720)"><circle class="s" r="3.1"/><text class="dr">신금호</text></g>
<g id="n275" transform="translate(933.33,720)"><circle class="s" r="3.1"/><text class="dr">행당</text></g>
<g id="n276" transform="translate(953.33,720)"><circle class="x1" r="6.5"/><circle class="x2" r="2.7"/><text class="DR">왕십리</text></g>
<g id="n277" transform="translate(973.33,720)"><circle class="s" r="3.1"/><text class="ur">마장</text></g>
<g id="n278" transform="translate(1013.33,720)"><circle class="s" r="3.1"/><text class="dr">답십리</text></g>
<g id="n279" transform="translate(1040,720)"><circle class="s" r="3.1"/><text class="dr">장안</text></g>
<g id="n280" transform="translate(1060,720)"><circle class="x1" r="6.5"/><circle class="x2" r="2.7"/><text class="UR">군자</text></g>
<g id="n281" transform="translate(1106.67,733.33)"><circle class="s" r="3.1"/><text class="r">아차산</text></g>
<g id="n282" transform="translate(1133.33,760)"><circle class="s" r="3.1"/><text class="r">광나루</text></g>
<g id="n283" transform="translate(1213.33,793.33)"><circle class="x1" r="6.5"/><circle class="x2" r="2.7"/><text class="UR">강동</text></g>
<g id="n284" transform="translate(1240,793.33)"><circle class="s" r="3.1"/><text class="ur">길동</text></g>
<g id="n285" transform="translate(1266.67,793.33)"><circle class="s" r="3.1"/><text class="ur">굽은다리</text></g>
<g id="n286" transform="translate(1293.33,793.33)"><circle class="s" r="3.1"/><text class="ur">명일</text></g>
<g id="n287" transform="translate(1320,793.33)"><circle class="s" r="3.1"/><text class="ur">고덕</text></g>
<g id="n288" transform="translate(1346.67,793.33)"><circle class="s" r="3.1"/><text class="ur">상일동</text></g>
<g id="n289" transform="translate(1213.33,826.67)"><circle class="s" r="3.1"/><text class="r">둔촌동</text></g>
<g id="n290" transform="translate(1213.33,860)"><circle class="s" r="3.1"/><text class="r">올림픽공원</text></g>
<g id="n291" transform="translate(1213.33,893.33)"><circle class="s" r="3.1"/><text class="r">방이</text></g>
<g id="n292" transform="translate(1233.33,926.67)"><circle class="s" r="3.1"/><text class="dr">개롱</text></g>
<g id="n293" transform="translate(1260,926.67)"><circle class="s" r="3.1"/><text class="dr">거여</text></g>
<g id="n294" transform="translate(1286.67,926.67)"><circle class="s" r="3.1"/><text class="dr">마천</text></g>
<g id="n295" transform="translate(733.33,700)"><circle class="x1" r="6.5"/><circle class="x2" r="2.7"/><text class="UR">충정로</text></g>
<g id="n296" transform="translate(706.67,700)"><circle class="s" r="3.1"/><text class="ur">아현</text></g>
<g id="n297" transform="translate(686.67,700)"><circle class="s" r="3.1"/><text class="l">이대</text></g>
<g id="n298" transform="translate(673.33,713.33)"><circle class="s" r="3.1"/><text class="r">신촌</text></g>
<g id="n299" transform="translate(660,726.67)"><circle class="s" r="3.1"/><text class="r">홍대입구</text></g>
<g id="n300" transform="translate(626.67,760)"><circle class="s" r="3.1"/><text class="l">당산</text></g>
<g id="n301" transform="translate(606.67,813.33)"><circle class="s" r="3.1"/><text class="dr">문래</text></g>
<g id="n302" transform="translate(606.67,880)"><circle class="x1" r="6.5"/><circle class="x2" r="2.7"/><text class="L">대림</text></g>
<g id="n303" transform="translate(633.33,906.67)"><circle class="s" r="3.1"/><text class="r">구로디지털단지</text></g>
<g id="n304" transform="translate(653.33,926.67)"><circle class="s" r="3.1"/><text class="dl">신대방</text></g>
<g id="n305" transform="translate(680,926.67)"><circle class="s" r="3.1"/><text class="dl">신림</text></g>
<g id="n306" transform="translate(706.67,926.67)"><circle class="s" r="3.1"/><text class="dl">봉천</text></g>
<g id="n307" transform="translate(733.33,953.33)"><circle class="s" r="3.1"/><text class="dl">서울대입구</text></g>
<g id="n308" transform="translate(760,953.33)"><circle class="s" r="3.1"/><text class="dl">낙성대</text></g>
<g id="n309" transform="translate(826.67,953.33)"><circle class="s" r="3.1"/><text class="dr">방배</text></g>
<g id="n310" transform="translate(853.33,953.33)"><circle class="s" r="3.1"/><text class="dr">서초</text></g>
<g id="n311" transform="translate(926.67,913.33)"><circle class="s" r="3.1"/><text class="ur">강남</text></g>
<g id="n312" transform="translate(960,913.33)"><circle class="s" r="3.1"/><text class="ur">역삼</text></g>
<g id="n313" transform="translate(1020,913.33)"><circle class="s" r="3.1"/><text class="ur">삼성</text></g>
<g id="n314" transform="translate(1053.33,913.33)"><circle class="s" r="3.1"/><text class="ur">종합운동장</text></g>
<g id="n315" transform="translate(1086.67,900)"><circle class="s" r="3.1"/><text class="r">잠실새내</text></g>
<g id="n316" transform="translate(1100,833.33)"><circle class="s" r="3.1"/><text class="ur">잠실나루</text></g>
<g id="n317" transform="translate(1093.33,806.67)"><circle class="s" r="3.1"/><text class="ur">강변</text></g>
<g id="n318" transform="translate(1080,793.33)"><circle class="s" r="3.1"/><text class="ur">구의</text></g>
<g id="n319" transform="translate(1060,793.33)"><circle class="x1" r="6.5"/><circle class="x2" r="2.7"/><text class="DR">건대입구</text></g>
<g id="n320" transform="translate(1026.67,793.33)"><circle class="x1" r="6.5"/><circle class="x2" r="2.7"/><text class="UR">성수</text></g>
<g id="n321" transform="translate(1006.67,773.33)"><circle class="s" r="3.1"/><text class="dl">뚝섬</text></g>
<g id="n322" transform="translate(993.33,760)"><circle class="s" r="3.1"/><text class="dl">한양대</text></g>
<g id="n323" transform="translate(926.67,693.33)"><circle class="s" r="3.1"/><text class="r">상왕십리</text></g>
<g id="n324" transform="translate(773.33,686.67)"><circle class="s" r="3.1"/><text class="ur">을지로입구</text></g>
<g id="n325" transform="translate(946.67,680)"><circle class="s" r="3.1"/><text class="r">용두</text></g>
<g id="n326" transform="translate(1006.67,740)"><circle class="s" r="3.1"/><text class="r">신답</text></g>
<g id="n327" transform="translate(1026.67,760)"><circle class="s" r="3.1"/><text class="r">용답</text></g>
<g id="n328" transform="translate(460,826.67)"><circle class="s" r="3.1"/><text class="l">신정네거리</text></g>
<g id="n329" transform="translate(500,840)"><circle class="s" r="3.1"/><text class="dl">양천구청</text></g>
<g id="n330" transform="translate(546.67,840)"><circle class="s" r="3.1"/><text class="dl">도림천</text></g>
<g id="n331" transform="translate(1433.33,726.67)"><circle class="s" r="3.1"/><text class="l">용문</text></g>
<g id="n332" transform="translate(1433.33,700)"><circle class="s" r="3.1"/><text class="l">원덕</text></g>
<g id="n333" transform="translate(1433.33,673.33)"><circle class="s" r="3.1"/><text class="l">양평</text></g>
<g id="n334" transform="translate(1433.33,646.67)"><circle class="s" r="3.1"/><text class="l">오빈</text></g>
<g id="n335" transform="translate(1413.33,620)"><circle class="s" r="3.1"/><text class="ur">아신</text></g>
<g id="n336" transform="translate(1386.67,620)"><circle class="s" r="3.1"/><text class="ur">국수</text></g>
<g id="n337" transform="translate(1360,620)"><circle class="s" r="3.1"/><text class="ur">신원</text></g>
<g id="n338" transform="translate(1333.33,620)"><circle class="s" r="3.1"/><text class="ur">양수</text></g>
<g id="n339" transform="translate(1306.67,620)"><circle class="s" r="3.1"/><text class="ur">운길산</text></g>
<g id="n340" transform="translate(1280,620)"><circle class="s" r="3.1"/><text class="ur">팔당</text></g>
<g id="n341" transform="translate(1253.33,620)"><circle class="s" r="3.1"/><text class="ur">도심</text></g>
<g id="n342" transform="translate(1226.67,620)"><circle class="s" r="3.1"/><text class="ur">덕소</text></g>
<g id="n343" transform="translate(1200,620)"><circle class="s" r="3.1"/><text class="ur">양정</text></g>
<g id="n344" transform="translate(1173.33,620)"><circle class="s" r="3.1"/><text class="ur">도농</text></g>
<g id="n345" transform="translate(1146.67,620)"><circle class="s" r="3.1"/><text class="ur">구리</text></g>
<g id="n346" transform="translate(1120,620)"><circle class="s" r="3.1"/><text class="ur">양원</text></g>
<g id="n347" transform="translate(1093.33,620)"><circle class="s" r="3.1"/><text class="ur">망우</text></g>
<g id="n348" transform="translate(1060,620)"><circle class="x1" r="6.5"/><circle class="x2" r="2.7"/><text class="R">상봉</text></g>
<g id="n349" transform="translate(1040,620)"><circle class="s" r="3.1"/><text class="ur">중랑</text></g>
<g id="n350" transform="translate(860,820)"><circle class="s" r="3.1"/><text class="dr">한남</text></g>
<g id="n351" transform="translate(826.67,820)"><circle class="s" r="3.1"/><text class="dr">서빙고</text></g>
<g id="n352" transform="translate(920,760)"><circle class="s" r="3.1"/><text class="r">응봉</text></g>
<g id="n353" transform="translate(980,380)"><circle class="s" r="3.1"/><text class="r">장암</text></g>
<g id="n354" transform="translate(1033.33,513.33)"><circle class="s" r="3.1"/><text class="ur">중계</text></g>
<g id="n355" transform="translate(1046.67,526.67)"><circle class="s" r="3.1"/><text class="ur">하계</text></g>
<g id="n356" transform="translate(1060,540)"><circle class="s" r="3.1"/><text class="ur">공릉</text></g>
<g id="n357" transform="translate(1060,580)"><circle class="s" r="3.1"/><text class="r">먹골</text></g>
<g id="n358" transform="translate(1060,600)"><circle class="s" r="3.1"/><text class="r">중화</text></g>
<g id="n359" transform="translate(1060,640)"><circle class="s" r="3.1"/><text class="r">면목</text></g>
<g id="n360" transform="translate(1060,660)"><circle class="s" r="3.1"/><text class="r">사가정</text></g>
<g id="n361" transform="translate(1060,680)"><circle class="s" r="3.1"/><text class="r">용마산</text></g>
<g id="n362" transform="translate(1060,700)"><circle class="s" r="3.1"/><text class="l">중</text></g>
<g id="n363" transform="translate(1060,760)"><circle class="s" r="3.1"/><text class="r">어린이대공원</text></g>
<g id="n364" transform="translate(1060,820)"><circle class="s" r="3.1"/><text class="l">뚝섬유원지</text></g>
<g id="n365" transform="translate(1040,866.67)"><circle class="s" r="3.1"/><text class="l">청담</text></g>
<g id="n366" transform="translate(986.67,880)"><circle class="s" r="3.1"/><text class="ur">강남구청</text></g>
<g id="n367" transform="translate(960,880)"><circle class="s" r="3.1"/><text class="ur">학동</text></g>
<g id="n368" transform="translate(926.67,880)"><circle class="s" r="3.1"/><text class="ur">논현</text></g>
<g id="n369" transform="translate(893.33,880)"><circle class="s" r="3.1"/><text class="ur">반포</text></g>
<g id="n370" transform="translate(826.67,906.67)"><circle class="s" r="3.1"/><text class="ur">내방</text></g>
<g id="n371" transform="translate(760,906.67)"><circle class="s" r="3.1"/><text class="dl">남성</text></g>
<g id="n372" transform="translate(733.33,880)"><circle class="s" r="3.1"/><text class="ur">숭실대</text></g>
<g id="n373" transform="translate(713.33,880)"><circle class="s" r="3.1"/><text class="dr">상도</text></g>
<g id="n374" transform="translate(693.33,880)"><circle class="s" r="3.1"/><text class="dr">장승배기</text></g>
<g id="n375" transform="translate(673.33,880)"><circle class="s" r="3.1"/><text class="dr">신대방삼거리</text></g>
<g id="n376" transform="translate(653.33,880)"><circle class="s" r="3.1"/><text class="dr">보라매</text></g>
<g id="n377" transform="translate(633.33,880)"><circle class="s" r="3.1"/><text class="dr">신풍</text></g>
<g id="n378" transform="translate(580,906.67)"><circle class="s" r="3.1"/><text class="r">남구로</text></g>
<g id="n379" transform="translate(526.67,940)"><circle class="s" r="3.1"/><text class="dl">철산</text></g>
<g id="n380" transform="translate(500,940)"><circle class="s" r="3.1"/><text class="dl">광명</text></g>
<g id="n381" transform="translate(480,920)"><circle class="s" r="3.1"/><text class="dl">천왕</text></g>
<g id="n382" transform="translate(313.33,660)"><circle class="x1" r="6.5"/><circle class="x2" r="2.7"/><text class="UL">계양</text></g>
<g id="n383" transform="translate(233.33,660)"><circle class="s" r="3.1"/><text class="ul">검암</text></g>
<g id="n384" transform="translate(53.33,660)"><circle class="s" r="3.1"/><text class="ul">영종</text></g>
<g id="n385" transform="translate(33.33,740)"><circle class="s" r="3.1"/><text class="r">운서</text></g>
<g id="n386" transform="translate(33.33,793.33)"><circle class="s" r="3.1"/><text class="r">공항화물청사</text></g>
<g id="n387" transform="translate(33.33,846.67)"><circle class="s" r="3.1"/><text class="r">인천국제공항</text></g>
<g id="n388" transform="translate(313.33,686.67)"><circle class="s" r="3.1"/><text class="l">귤현</text></g>
<g id="n389" transform="translate(313.33,713.33)"><circle class="s" r="3.1"/><text class="l">박촌</text></g>
<g id="n390" transform="translate(313.33,740)"><circle class="s" r="3.1"/><text class="l">임학</text></g>
<g id="n391" transform="translate(313.33,766.67)"><circle class="s" r="3.1"/><text class="l">계산</text></g>
<g id="n392" transform="translate(313.33,793.33)"><circle class="s" r="3.1"/><text class="l">경인교대입구</text></g>
<g id="n393" transform="translate(313.33,813.33)"><circle class="s" r="3.1"/><text class="r">작전</text></g>
<g id="n394" transform="translate(313.33,833.33)"><circle class="s" r="3.1"/><text class="l">갈산</text></g>
<g id="n395" transform="translate(313.33,853.33)"><circle class="s" r="3.1"/><text class="ur">부평구청</text></g>
<g id="n396" transform="translate(313.33,873.33)"><circle class="s" r="3.1"/><text class="r">부평시장</text></g>
<g id="n397" transform="translate(313.33,926.67)"><circle class="s" r="3.1"/><text class="r">동수</text></g>
<g id="n398" transform="translate(300,940)"><circle class="s" r="3.1"/><text class="r">부평삼거리</text></g>
<g id="n399" transform="translate(286.67,953.33)"><circle class="s" r="3.1"/><text class="r">간석오거리</text></g>
<g id="n400" transform="translate(273.33,966.67)"><circle class="s" r="3.1"/><text class="r">인천시청</text></g>
<g id="n401" transform="translate(266.67,986.67)"><circle class="s" r="3.1"/><text class="r">예술회관</text></g>
<g id="n402" transform="translate(266.67,1006.67)"><circle class="s" r="3.1"/><text class="r">인천터미널</text></g>
<g id="n403" transform="translate(266.67,1026.67)"><circle class="s" r="3.1"/><text class="r">문학경기장</text></g>
<g id="n404" transform="translate(266.67,1046.67)"><circle class="s" r="3.1"/><text class="r">선학</text></g>
<g id="n405" transform="translate(266.67,1066.67)"><circle class="s" r="3.1"/><text class="r">신연수</text></g>
<g id="n406" transform="translate(266.67,1086.67)"><circle class="s" r="3.1"/><text class="r">원인재</text></g>
<g id="n407" transform="translate(266.67,1106.67)"><circle class="s" r="3.1"/><text class="r">동춘</text></g>
<g id="n408" transform="translate(266.67,1126.67)"><circle class="s" r="3.1"/><text class="r">동막</text></g>
</g>
</svg>
